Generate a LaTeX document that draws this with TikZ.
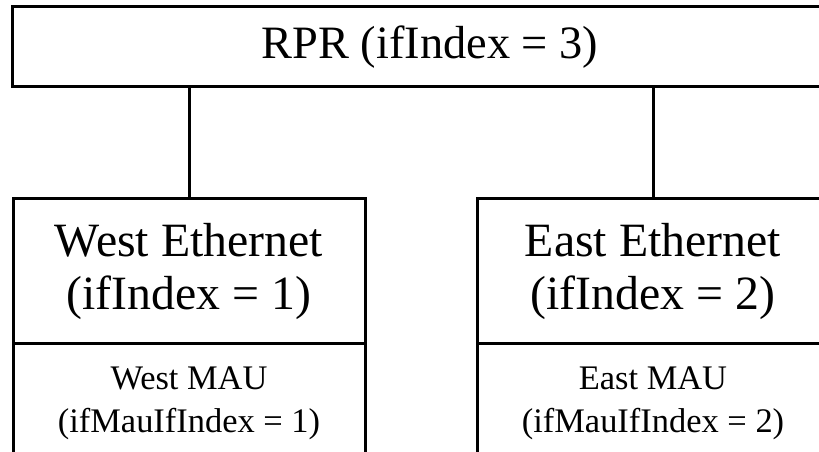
\documentclass[tikz,border=0pt]{standalone}
\usepackage{fontspec}
\setmainfont{Liberation Serif}
\usepackage{tikz}

\begin{document}
\begin{tikzpicture}[x=1cm,y=1cm,
  box/.style={draw,line width=0.075cm,outer sep=0pt,minimum width=8.8cm,inner sep=0pt,align=center,font=\fontsize{34}{37.7}\selectfont},
  maubox/.style={box,minimum height=2.95cm,font=\fontsize{24.5}{30.6}\selectfont},
  link/.style={line width=0.075cm}]
\path[use as bounding box] (0,0) rectangle (20.475,11.30);
\node[box,minimum width=20.85cm,minimum height=2cm,font=\fontsize{33}{37}\selectfont] (rpr) at (10.75,10.125) {RPR (ifIndex = 3)};
\node[box,minimum height=3.625cm] (westeth) at (4.725,4.5125) {West Ethernet\\(ifIndex = 1)};
\node[box,minimum height=3.625cm] (easteth) at (16.325,4.5125) {East Ethernet\\(ifIndex = 2)};
\node[maubox,anchor=north] (westmau) at (westeth.south) {West MAU\\(ifMauIfIndex = 1)};
\node[maubox,anchor=north] (eastmau) at (easteth.south) {East MAU\\(ifMauIfIndex = 2)};
\draw[link] (westeth.north |- rpr.south) -- (westeth.north);
\draw[link] (easteth.north |- rpr.south) -- (easteth.north);
\end{tikzpicture}
\end{document}
